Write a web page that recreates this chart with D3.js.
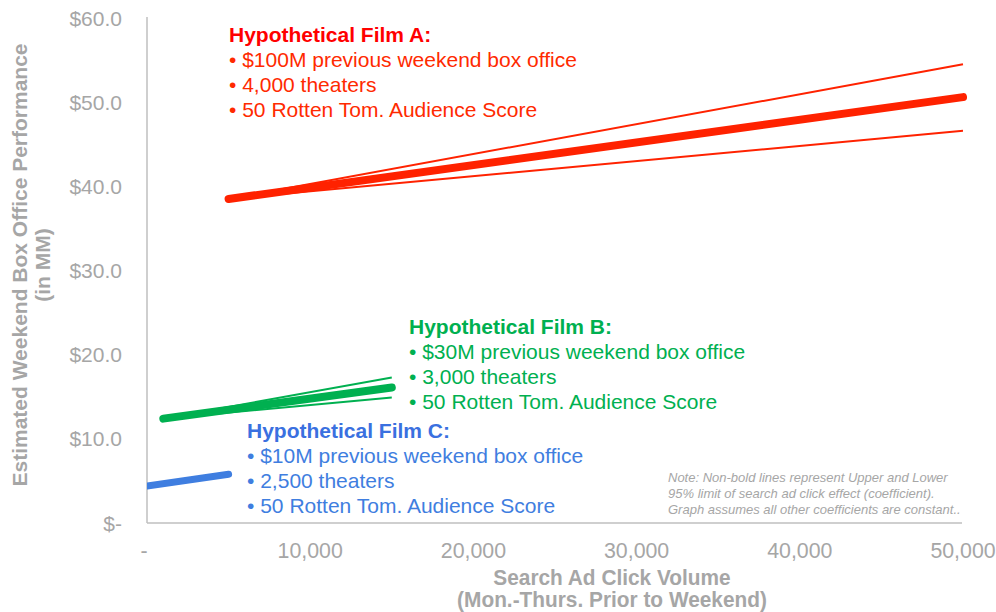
<!DOCTYPE html>
<html>
<head>
<meta charset="utf-8">
<script src="https://cdn.jsdelivr.net/npm/d3@7"></script>
<style>
body { margin: 0; background: #fff; }
svg { font-family: "Liberation Sans", Arial, sans-serif; }
</style>
</head>
<body>
<script>
// click volume range each film was modelled over
var filmAX = [5000, 50000];
var filmBX = [1000, 15000];
var filmCX = [0, 5000];

// estimate plus upper / lower 95% limits (in $MM)
var filmAMid = [38.5, 50.6], filmAUpper = [38.5, 54.5], filmALower = [38.5, 46.6];
var filmBMid = [12.4, 16.1], filmBUpper = [12.4, 17.3], filmBLower = [12.4, 14.9];
var filmCMid = [4.4, 5.8], filmCUpper = [4.4, 5.9], filmCLower = [4.4, 5.7];

var yTicks = [0, 10, 20, 30, 40, 50, 60];
var yTickLabels = ["$-", "$10.0", "$20.0", "$30.0", "$40.0", "$50.0", "$60.0"];
var xTicks = [0, 10000, 20000, 30000, 40000, 50000];
var xTickLabels = ["-", "10,000", "20,000", "30,000", "40,000", "50,000"];

var filmATexts = ["Hypothetical Film A:", "\u2022 $100M previous weekend box office", "\u2022 4,000 theaters", "\u2022 50 Rotten Tom. Audience Score"];
var filmBTexts = ["Hypothetical Film B:", "\u2022 $30M previous weekend box office", "\u2022 3,000 theaters", "\u2022 50 Rotten Tom. Audience Score"];
var filmCTexts = ["Hypothetical Film C:", "\u2022 $10M previous weekend box office", "\u2022 2,500 theaters", "\u2022 50 Rotten Tom. Audience Score"];
var noteLines = ["Note: Non-bold lines represent Upper and Lower", "95% limit of search ad click effect (coefficient).", "Graph assumes all other coefficients are constant.."];

var width = 996, height = 612;
var grey = "#a6a6a6";

var svg = d3.select("body").append("svg")
	.attr("width", width)
	.attr("height", height);

var x = d3.scaleLinear().domain([0, 50000]).range([147, 963]);
var y = d3.scaleLinear().domain([0, 60]).range([523, 18]);

svg.append("clipPath").attr("id", "plot")
	.append("rect")
		.attr("x", x(0)).attr("y", 0)
		.attr("width", width - x(0)).attr("height", y(0));

// axes lines
svg.append("line")
	.attr("x1", x(0)).attr("x2", x(0))
	.attr("y1", 17).attr("y2", y(0))
	.attr("stroke", "#bfbfbf").attr("stroke-width", 1.5);
svg.append("line")
	.attr("x1", x(0)).attr("x2", 962)
	.attr("y1", y(0)).attr("y2", y(0))
	.attr("stroke", "#bfbfbf").attr("stroke-width", 1.5);

// tick labels
svg.selectAll(".ytick")
	.data(yTicks)
	.enter().append("text")
		.attr("x", 122)
		.attr("y", function(d){ return y(d) + 7.5; })
		.attr("text-anchor", "end")
		.attr("fill", grey)
		.style("font-size", "21px")
		.text(function(d, i){ return yTickLabels[i]; });

svg.selectAll(".xtick")
	.data(xTicks)
	.enter().append("text")
		.attr("transform", function(d){ return "translate(" + (d == 0 ? x(d) - 3 : x(d)) + ",558) scale(0.97,1)"; })
		.attr("text-anchor", "middle")
		.attr("fill", grey)
		.style("font-size", "22px")
		.text(function(d, i){ return xTickLabels[i]; });

// axis titles
var yTitle = svg.append("text")
	.attr("transform", "translate(0,265) rotate(-90)")
	.attr("text-anchor", "middle")
	.attr("fill", grey)
	.style("font-size", "21px")
	.style("font-weight", "bold");
yTitle.append("tspan").attr("x", 0).attr("y", 27).text("Estimated Weekend Box Office Performance");
yTitle.append("tspan").attr("x", 0).attr("y", 50).text("(in MM)");

svg.append("text")
	.attr("transform", "translate(612,585) scale(0.97,1)")
	.attr("text-anchor", "middle")
	.attr("fill", grey)
	.style("font-size", "21.5px")
	.style("font-weight", "bold")
	.text("Search Ad Click Volume");
svg.append("text")
	.attr("transform", "translate(612,607) scale(0.97,1)")
	.attr("text-anchor", "middle")
	.attr("fill", grey)
	.style("font-size", "21.5px")
	.style("font-weight", "bold")
	.text("(Mon.-Thurs. Prior to Weekend)");

// the lines
var line = d3.line()
	.x(function(d){ return x(d[0]); })
	.y(function(d){ return y(d[1]); });

var lines = svg.append("g").attr("clip-path", "url(#plot)");

function drawFilm(xs, mid, upper, lower, color, boldWidth){
	[upper, lower].forEach(function(vals){
		lines.append("path")
			.attr("d", line(d3.zip(xs, vals)))
			.attr("fill", "none")
			.attr("stroke", color)
			.attr("stroke-width", 2);
	});
	lines.append("path")
		.attr("d", line(d3.zip(xs, mid)))
		.attr("fill", "none")
		.attr("stroke", color)
		.attr("stroke-width", boldWidth)
		.attr("stroke-linecap", "round");
}

drawFilm(filmAX, filmAMid, filmAUpper, filmALower, "#ff2200", 8);
drawFilm(filmBX, filmBMid, filmBUpper, filmBLower, "#00b050", 8);
drawFilm(filmCX, filmCMid, filmCUpper, filmCLower, "#3f7ee0", 7);

// annotations
function drawLabel(texts, x0, y0, titleColor, bodyColor){
	svg.selectAll(null)
		.data(texts)
		.enter().append("text")
			.attr("x", x0)
			.attr("y", function(d, i){ return y0 + i * 25; })
			.attr("fill", function(d, i){ return i == 0 ? titleColor : bodyColor; })
			.style("font-size", "21px")
			.style("font-weight", function(d, i){ return i == 0 ? "bold" : "normal"; })
			.text(function(d){ return d; });
}

drawLabel(filmATexts, 229, 42, "#ff0000", "#ff2a00");
drawLabel(filmBTexts, 409, 334, "#00b050", "#00b050");
drawLabel(filmCTexts, 247, 438, "#3a70e0", "#3f7ee0");

svg.selectAll(".note")
	.data(noteLines)
	.enter().append("text")
		.attr("x", 668)
		.attr("y", function(d, i){ return 482 + i * 16; })
		.attr("fill", grey)
		.style("font-size", "13px")
		.style("font-style", "italic")
		.text(function(d){ return d; });
</script>
</body>
</html>
